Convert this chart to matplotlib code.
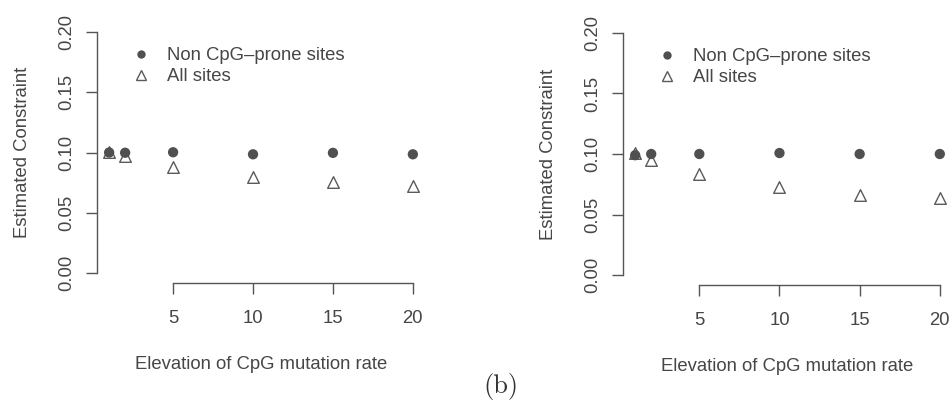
import matplotlib
matplotlib.use("Agg")
import matplotlib.pyplot as plt
from matplotlib.lines import Line2D

# Elevation factors of the CpG mutation rate
elevation = [1, 2, 5, 10, 15, 20]
x_ticks = [5, 10, 15, 20]
y_ticks = [0.00, 0.05, 0.10, 0.15, 0.20]
y_tick_labels = ["0.00", "0.05", "0.10", "0.15", "0.20"]

# Estimated constraint, left panel
left_non_cpg = [0.1000, 0.0998, 0.1002, 0.0985, 0.0997, 0.0985]
left_all = [0.1005, 0.0970, 0.0880, 0.0800, 0.0758, 0.0720]

# Estimated constraint, right panel
right_non_cpg = [0.0990, 0.1000, 0.1000, 0.1008, 0.1000, 0.1000]
right_all = [0.1010, 0.0950, 0.0835, 0.0725, 0.0660, 0.0635]

legend_labels = ["Non CpG\u2013prone sites", "All sites"]
x_label = "Elevation of CpG mutation rate"
y_label = "Estimated Constraint"
panel_tag = "(b)"

TEXT = "#464646"
AXIS = "#555555"
DOT = "#505050"
SANS = "Liberation Sans"
FS = 13.3

W, H = 952, 404
fig = plt.figure(figsize=(W / 100, H / 100), dpi=100)


def px_axes(x0, x1, y_top, y_bot):
    return fig.add_axes([x0 / W, 1 - y_bot / H, (x1 - x0) / W, (y_bot - y_top) / H])


def draw_panel(ax, non_cpg, all_sites, ylab_x):
    ax.scatter(elevation, all_sites, marker="^", s=70, facecolors="white",
               edgecolors="#5a5a5a", linewidths=1.0, zorder=3)
    ax.scatter(elevation, non_cpg, marker="o", s=55, color=DOT,
               edgecolors="none", zorder=4)
    ax.set_xlim(0.24, 20.76)
    ax.set_ylim(-0.008, 0.208)
    for side in ("top", "right"):
        ax.spines[side].set_visible(False)
    for side in ("left", "bottom"):
        ax.spines[side].set_color(AXIS)
        ax.spines[side].set_linewidth(1.0)
    ax.spines["left"].set_bounds(0.0, 0.2)
    ax.spines["bottom"].set_bounds(5, 20)
    ax.set_xticks(x_ticks)
    ax.set_yticks(y_ticks)
    ax.set_yticklabels(y_tick_labels, rotation=90, va="center")
    ax.tick_params(axis="both", direction="out", length=8, width=1.0,
                   color=AXIS, labelcolor=TEXT, labelsize=FS)
    ax.tick_params(axis="y", pad=7.5)
    ax.tick_params(axis="x", pad=11.5)
    for lab in ax.get_xticklabels() + ax.get_yticklabels():
        lab.set_fontfamily(SANS)
    ax.set_xlabel(x_label, fontsize=FS, family=SANS, color=TEXT, labelpad=21)
    ax.set_ylabel(y_label, fontsize=FS, family=SANS, color=TEXT)
    ax.yaxis.label.set_va("center")
    ax.yaxis.set_label_coords(ylab_x, 0.5)
    handles = [
        Line2D([], [], linestyle="none", marker="o", markersize=6,
               color=DOT, markeredgecolor="none"),
        Line2D([], [], linestyle="none", marker="^", markersize=7,
               markerfacecolor="white", markeredgecolor="#5a5a5a",
               markeredgewidth=1.0),
    ]
    leg = ax.legend(handles, legend_labels, loc="upper left",
                    bbox_to_anchor=(0.083, 0.932), frameon=False,
                    prop={"family": SANS, "size": FS}, handletextpad=0.9,
                    labelspacing=0.2, handlelength=1.0, borderaxespad=0)
    for t in leg.get_texts():
        t.set_color(TEXT)


ax_l = px_axes(97, 425, 22.4, 282.6)
draw_panel(ax_l, left_non_cpg, left_all, -0.226)

ax_r = px_axes(623, 952, 23.3, 284.7)
draw_panel(ax_r, right_non_cpg, right_all, -0.225)

fig.text(501 / W, 1 - 386 / H, panel_tag, family="cmr10", fontsize=19,
         color="#333333", ha="center", va="center")

fig.savefig("out.png", dpi=100)
